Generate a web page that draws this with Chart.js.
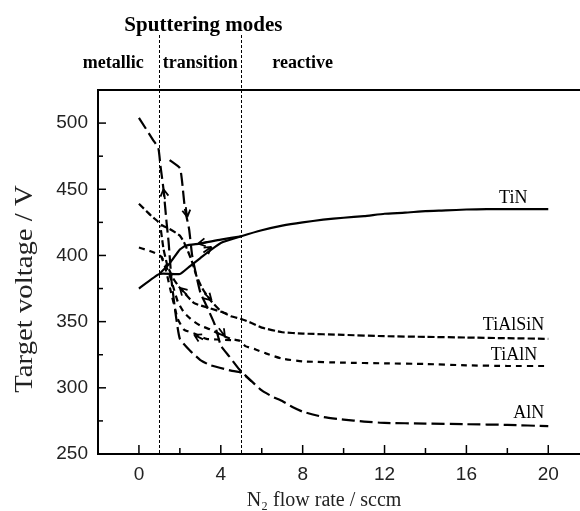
<!DOCTYPE html>
<html><head><meta charset="utf-8">
<script src="https://cdn.jsdelivr.net/npm/chart.js@4.4.1/dist/chart.umd.min.js"></script>
<style>html,body{margin:0;padding:0;background:#fff}canvas{display:block}</style>
</head><body>
<canvas id="c" width="580" height="511"></canvas>
<script>
/* DATA: N2 flow (sccm) vs target voltage (V), two branches per material */
const tinX=[0,1,2,2.5,3,3.5,4,5,6,7,8,9,10,11,12,13,14,15,16,17,18,19,20];
const tinY=[375,386,386,392,398,404,409.5,414.5,419,422.5,425,427,428.5,429.7,431.5,432.3,433.5,434,434.7,435,435,435,435];
const tinRetX=[5,4,3,2.3,2,1.5,1];
const tinRetY=[414.5,412,409,407.5,404.5,394,386];

const tasX=[0,0.6,0.9,1.1,1.5,2,2.2,2.4,2.6,2.8,3.1,3.5,4,4.5,5,5.5,6,7,8,10,12,14,16,18,20];
const tasY=[439,430,426,423,420,415,410,403,395,385,375,366,358,354,352,349,345.5,342,341,340,339,338.5,338,337.5,337];
const tasRetX=[4.3,3.5,2.7,2,1.7,1.4,1.2,1.05];
const tasRetY=[356,360,364,375.5,382,392,405,422];

const talX=[0,0.3,0.6,0.9,1.1,1.3,1.5,1.7,1.9,2.2,2.6,3,3.5,4,4.5,4.93,5.2,5.7,6.2,7,8,10,12,14,16,18,20];
const talY=[406,404.5,403,401,399,393,385,375,365,357,351,347,344,340,337,335.5,331.5,329,326,322,320,319,318.5,318,317,316.5,316.5];
const talRetX=[4.5,3.8,3.3,2.7,2.2,1.9,1.6,1.3,1.1];
const talRetY=[336,336.5,337,341,344,352,370,390,399];

const alnX=[0,0.7,0.95,1.05,1.2,1.35,1.45,1.6,1.8,2,2.5,3,3.5,4.5,5,5.5,6,6.5,7,7.5,8,9,10,11,12,14,16,18,20];
const alnY=[504,487,481,468,450,425,410,380,355,337,328,321,317,313,311.5,305,298,293.5,290,285.5,282,278,276,274.5,273.5,273,272.5,272,271];
const alnRetX=[1.5,2,2.1,2.25,2.45,2.6,2.8,3,3.3,3.7,4,4.4,4.9,5.5];
const alnRetY=[472,466,457,435,420,400,385,372,362,348,332,324,314,305];

/* axis ticks */
const xTicks=[0,2,4,6,8,10,12,14,16,18,20];
const yTicks=[250,275,300,325,350,375,400,425,450,475,500];

/* hysteresis arrows: position (data) and screen direction in degrees */
const arrowX=[3.55,2.9,1.2,2.36,2.0,3.55,2.7,4.2];
const arrowY=[406.5,409,450,429,375.5,366,340,339];
const arrowDir=[-35,170,-98,82,-135,45,-153,53];

/* curve names */
const curveNames=['TiN','TiAlSiN','TiAlN','AlN'];
const nameX=[18.98,19.8,19.46,19.8];
const nameY=[440,344,320.7,277];

/* sputtering modes */
const modeLimits=[1,5];
const modeNames=['metallic','transition','reactive'];
const modeNameX=[-1.25,3,8];

const pts=(xs,ys)=>xs.map((x,i)=>({x:x,y:ys[i]}));
function ds(xs,ys,dash,w){
  return {data:pts(xs,ys),showLine:true,borderColor:'#000',borderWidth:w||2.2,borderDash:dash,
    pointRadius:0,tension:0.15,fill:false};
}

const decor={
  id:'decor',
  beforeDatasetsDraw(chart){
    const ctx=chart.ctx,xs=chart.scales.x,a=chart.chartArea;
    ctx.save();
    ctx.strokeStyle='#000';ctx.lineWidth=1;ctx.setLineDash([3,2]);
    modeLimits.forEach(v=>{
      const px=Math.round(xs.getPixelForValue(v))+0.5;
      ctx.beginPath();ctx.moveTo(px,35);ctx.lineTo(px,a.bottom);ctx.stroke();
    });
    ctx.restore();
  },
  afterDraw(chart){
    const ctx=chart.ctx,xs=chart.scales.x,ys=chart.scales.y,a=chart.chartArea;
    ctx.save();
    ctx.strokeStyle='#000';ctx.fillStyle='#000';ctx.setLineDash([]);
    // top frame
    ctx.lineWidth=2;
    ctx.beginPath();ctx.moveTo(a.left,a.top);ctx.lineTo(chart.width,a.top);ctx.stroke();
    // inward ticks
    ctx.lineWidth=1.5;
    xs.ticks.forEach(t=>{
      const v=t.value;if(v<0||v>20)return;
      const px=xs.getPixelForValue(v),len=(v%4===0)?9:6;
      ctx.beginPath();ctx.moveTo(px,a.bottom);ctx.lineTo(px,a.bottom-len);ctx.stroke();
    });
    ys.ticks.forEach(t=>{
      const v=t.value;if(v<=250||v>=525)return;
      const py=ys.getPixelForValue(v),len=(v%50===0)?8:5;
      ctx.beginPath();ctx.moveTo(a.left,py);ctx.lineTo(a.left+len,py);ctx.stroke();
    });
    // arrows
    ctx.lineWidth=1.8;
    arrowX.forEach((x,i)=>{
      const px=xs.getPixelForValue(x),py=ys.getPixelForValue(arrowY[i]);
      const ang=arrowDir[i]*Math.PI/180;
      ctx.beginPath();
      ctx.moveTo(px-10*Math.cos(ang),py-10*Math.sin(ang));ctx.lineTo(px,py);
      [150,-150].forEach(d=>{
        const b=ang+d*Math.PI/180;
        ctx.moveTo(px,py);ctx.lineTo(px+8*Math.cos(b),py+8*Math.sin(b));
      });
      ctx.stroke();
    });
    // curve names
    ctx.font='18px "Liberation Serif"';ctx.textAlign='right';ctx.textBaseline='alphabetic';
    curveNames.forEach((n,i)=>ctx.fillText(n,xs.getPixelForValue(nameX[i]),ys.getPixelForValue(nameY[i])));
    // header
    ctx.textAlign='center';
    ctx.font='bold 21px "Liberation Serif"';
    ctx.fillText('Sputtering modes',xs.getPixelForValue(3.15),31);
    ctx.font='bold 18px "Liberation Serif"';
    modeNames.forEach((n,i)=>ctx.fillText(n,xs.getPixelForValue(modeNameX[i]),68));
    // axis titles
    ctx.fillStyle='#222';
    ctx.font='20px "Liberation Serif"';
    ctx.fillText('N\u2082 flow rate / sccm',324,506);
    ctx.translate(32,289);ctx.rotate(-Math.PI/2);ctx.scale(1.15,1);
    ctx.font='25px "Liberation Serif"';
    ctx.fillText('Target voltage / V',0,0);
    ctx.restore();
  }
};

new Chart(document.getElementById('c'),{
  type:'scatter',
  data:{datasets:[
    ds(tinX,tinY,[]),ds(tinRetX,tinRetY,[]),
    ds(tasX,tasY,[7,3]),ds(tasRetX,tasRetY,[7,3]),
    ds(talX,talY,[6,5]),ds(talRetX,talRetY,[6,5]),
    ds(alnX,alnY,[13,5]),ds(alnRetX,alnRetY,[13,5])
  ]},
  options:{
    responsive:false,devicePixelRatio:1,animation:false,
    layout:{padding:{top:90,right:0,left:0,bottom:0}},
    plugins:{legend:{display:false},tooltip:{enabled:false}},
    scales:{
      x:{type:'linear',min:-2,max:21.55,
        afterBuildTicks:s=>{s.ticks=xTicks.map(v=>({value:v}));},
        afterFit:s=>{s.height=57;s.paddingRight=0;},
        grid:{display:false,drawTicks:false},
        border:{display:true,color:'#000',width:2},
        ticks:{autoSkip:false,maxRotation:0,padding:9,color:'#222',
          font:{family:'"Liberation Sans"',size:19},
          callback:v=>(v%4===0)?String(v):''}},
      y:{type:'linear',min:250,max:525,
        afterBuildTicks:s=>{s.ticks=yTicks.map(v=>({value:v}));},
        afterFit:s=>{s.width=98;},
        grid:{display:false,drawTicks:false},
        border:{display:true,color:'#000',width:2},
        ticks:{autoSkip:false,padding:10,color:'#222',
          font:{family:'"Liberation Sans"',size:19},
          callback:v=>(v%50===0)?String(v):''}}
    }
  },
  plugins:[decor]
});
</script>
</body></html>
